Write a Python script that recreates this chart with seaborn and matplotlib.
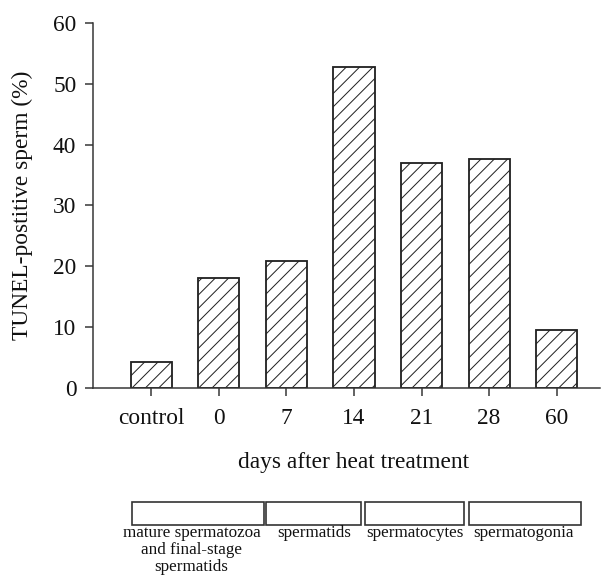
import matplotlib
matplotlib.use("Agg")
import matplotlib.pyplot as plt
import seaborn as sns
import pandas as pd
from matplotlib.patches import Rectangle

# ---- data ----
categories = ["control", "0", "7", "14", "21", "28", "60"]
tunel_positive = [4.2, 18.0, 20.8, 52.7, 37.0, 37.6, 9.5]
stage_labels = ["mature spermatozoa\nand final-stage\nspermatids", "spermatids",
                "spermatocytes", "spermatogonia"]
y_ticks = [0, 10, 20, 30, 40, 50, 60]

sns.set_theme(style="ticks")
plt.rcParams["font.family"] = ["Liberation Serif", "DejaVu Serif"]
plt.rcParams["hatch.linewidth"] = 0.6
plt.rcParams["hatch.color"] = "#222222"

DPI = 120
fig = plt.figure(figsize=(613 / DPI, 575 / DPI), dpi=DPI)
ax = fig.add_axes([93 / 613, 1 - 387.7 / 575, (600 - 93) / 613, (387.7 - 23) / 575])

df = pd.DataFrame({"day": categories, "pct": tunel_positive})
sns.barplot(data=df, x="day", y="pct", order=categories, color="white",
            edgecolor="#222222", linewidth=1.1, width=0.61, ax=ax)
for p in ax.patches:
    p.set_hatch("///")
    p.set_facecolor("white")
    p.set_edgecolor("#222222")

ax.set_ylim(0, 60)
ax.set_xlim(-0.86, 6.64)
ax.set_yticks(y_ticks)
ax.tick_params(axis="both", labelsize=14, colors="#333333", labelcolor="#111111",
               direction="out", length=5, width=0.9)
ax.tick_params(axis="y", pad=5)
ax.tick_params(axis="x", pad=7)
for s in ["top", "right"]:
    ax.spines[s].set_visible(False)
for s in ["left", "bottom"]:
    ax.spines[s].set_color("#333333")
    ax.spines[s].set_linewidth(0.9)

ax.set_xlabel("days after heat treatment", fontsize=14, color="#111111")
ax.set_ylabel("TUNEL-postitive sperm (%)", fontsize=14, color="#111111")
ax.xaxis.set_label_coords((354 - 93) / 507, -0.176)
ax.yaxis.set_label_coords(-0.118, 0.5)

# stage boxes below the axis
box_x = [(132.3, 264), (266, 361), (365, 464), (469, 580.7)]
label_cx = [191.5, 313.7, 415, 524]
for (x0, x1), lab, cx in zip(box_x, stage_labels, label_cx):
    fig.add_artist(Rectangle((x0 / 613, 1 - 525 / 575), (x1 - x0) / 613, 23.3 / 575,
                             transform=fig.transFigure, facecolor="white",
                             edgecolor="#333333", linewidth=1.0))
    fig.text(cx / 613, 1 - 525 / 575, lab, ha="center", va="top", fontsize=10.2,
             linespacing=1.08, color="#111111")

fig.savefig("out.png", dpi=DPI)
